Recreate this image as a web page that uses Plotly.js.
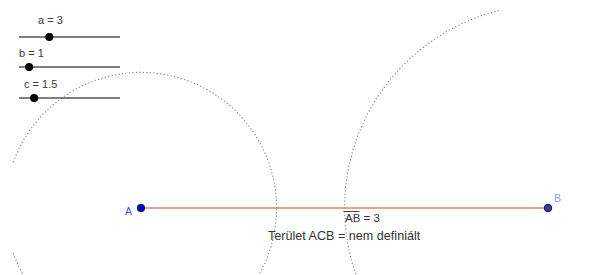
<!DOCTYPE html>
<html><head><meta charset="utf-8">
<script src="https://cdn.plot.ly/plotly-3.0.1.min.js"></script>
<style>html,body{margin:0;padding:0;background:#fff}</style>
</head><body><div id="chart" style="width:595px;height:275px"></div>
<script>
// ---- data ----
const sliderNames = ['a', 'b', 'c'];
const sliderValues = [3, 1, 1.5];
const sliderMin = 0, sliderMax = 10;
const pointNames = ['A', 'B'];
const pointX = [0, 3];
const pointY = [0, 0];
const segmentLabel = 'AB = 3';
const areaLabel = 'Terület ACB = nem definiált';

// ---- layout constants (pixels) ----
const W = 595, H = 275;
const originPx = [141, 208];   // pixel of A
const unit = 135.67;           // pixels per unit
const sliderRowsPx = [37, 67, 98];
const sliderLeftPx = 19, sliderRightPx = 120;
const sliderLabelPx = [[50, 20], [31, 53], [40, 84]];
const clipPx = [13, 500];

const xr = [-originPx[0] / unit, (W - originPx[0]) / unit];
const yr = [-(H - originPx[1]) / unit, originPx[1] / unit];
const clipX = clipPx.map(p => (p - originPx[0]) / unit);

// circles: centre A radius b, centre B radius c
function circle(cx, cy, r) {
  const xs = [], ys = [];
  for (let i = 0; i <= 720; i++) {
    const t = i / 720 * 2 * Math.PI;
    const x = cx + r * Math.cos(t), y = cy + r * Math.sin(t);
    if (x < clipX[0] || x > clipX[1]) { xs.push(null); ys.push(null); }
    else { xs.push(x); ys.push(y); }
  }
  return {x: xs, y: ys};
}
const bVal = sliderValues[1], cVal = sliderValues[2];
const c1 = circle(pointX[0], pointY[0], bVal);
const c2 = circle(pointX[1], pointY[1], cVal);

const traces = [];
[c1, c2].forEach(c => traces.push({
  type: 'scatter', mode: 'lines', x: c.x, y: c.y, connectgaps: false,
  line: {color: '#808080', width: 1.1, dash: '1.2px,2.3px'}, hoverinfo: 'skip', showlegend: false
}));
// segment AB
traces.push({
  type: 'scatter', mode: 'lines', x: pointX, y: pointY,
  line: {color: '#d08a70', width: 1.6}, showlegend: false, hoverinfo: 'skip'
});
// points
traces.push({
  type: 'scatter', mode: 'markers', x: pointX, y: pointY, cliponaxis: false,
  marker: {size: 7.5, color: ['#0000cc', '#3b3b9a'], line: {color: '#1a1a4a', width: 1}},
  showlegend: false, hoverinfo: 'skip'
});
// sliders
sliderNames.forEach((n, i) => {
  traces.push({
    type: 'scatter', mode: 'lines', xaxis: 'x2', yaxis: 'y2',
    x: [sliderMin, sliderMax], y: [sliderRowsPx[i], sliderRowsPx[i]],
    line: {color: '#555555', width: 1.5}, showlegend: false, hoverinfo: 'skip', cliponaxis: false
  });
});
traces.push({
  type: 'scatter', mode: 'markers', xaxis: 'x2', yaxis: 'y2', cliponaxis: false,
  x: sliderValues, y: sliderRowsPx,
  marker: {size: 8, color: '#000000'}, showlegend: false, hoverinfo: 'skip'
});

const fam = 'Liberation Sans, Arial, sans-serif';
const annotations = [];
sliderNames.forEach((n, i) => annotations.push({
  xref: 'paper', yref: 'paper', x: sliderLabelPx[i][0] / W, y: 1 - sliderLabelPx[i][1] / H,
  text: n + ' = ' + sliderValues[i], showarrow: false, xanchor: 'center', yanchor: 'middle',
  font: {family: fam, size: 11, color: '#3a3a3a'}
}));
annotations.push({
  x: pointX[0], y: pointY[0], xref: 'x', yref: 'y', text: pointNames[0], showarrow: false,
  xshift: -13, yshift: -3, font: {family: fam, size: 10.5, color: '#4a4aff'}
});
annotations.push({
  x: pointX[1], y: pointY[1], xref: 'x', yref: 'y', text: pointNames[1], showarrow: false,
  xshift: 9, yshift: 10, font: {family: fam, size: 10.5, color: '#9a9aff'}
});
const midX = (pointX[0] + pointX[1]) / 2;
annotations.push({
  x: midX, y: pointY[0], xref: 'x', yref: 'y', text: segmentLabel, showarrow: false,
  xanchor: 'left', yanchor: 'middle', xshift: -2, yshift: -10,
  font: {family: fam, size: 11.5, color: '#333333'}
});
annotations.push({
  x: midX, y: pointY[0], xref: 'x', yref: 'y', text: areaLabel, showarrow: false,
  xanchor: 'center', yanchor: 'middle', xshift: 0, yshift: -28,
  font: {family: fam, size: 12.6, color: '#333333'}
});

// overline above "AB" (pixel-sized, anchored at the midpoint of AB)
const shapes = [{
  type: 'line', xref: 'x', yref: 'y', xsizemode: 'pixel', ysizemode: 'pixel',
  xanchor: midX, yanchor: pointY[0], x0: -1, x1: 15, y0: -3.5, y1: -3.5,
  line: {color: '#444444', width: 1}
}];

const axisOff = {visible: false, showgrid: false, zeroline: false, fixedrange: true};
const layout = {
  width: W, height: H, margin: {l: 0, r: 0, t: 0, b: 0},
  paper_bgcolor: '#ffffff', plot_bgcolor: 'rgba(0,0,0,0)', showlegend: false,
  xaxis: Object.assign({range: xr, domain: [0, 1]}, axisOff),
  yaxis: Object.assign({range: yr, domain: [0, 1]}, axisOff),
  xaxis2: Object.assign({range: [sliderMin, sliderMax], domain: [sliderLeftPx / W, sliderRightPx / W], anchor: 'y2'}, axisOff),
  yaxis2: Object.assign({range: [H, 0], domain: [0, 1], anchor: 'x2', overlaying: 'y'}, axisOff),
  annotations: annotations, shapes: shapes
};
Plotly.newPlot('chart', traces, layout, {staticPlot: true, displayModeBar: false});
</script></body></html>
